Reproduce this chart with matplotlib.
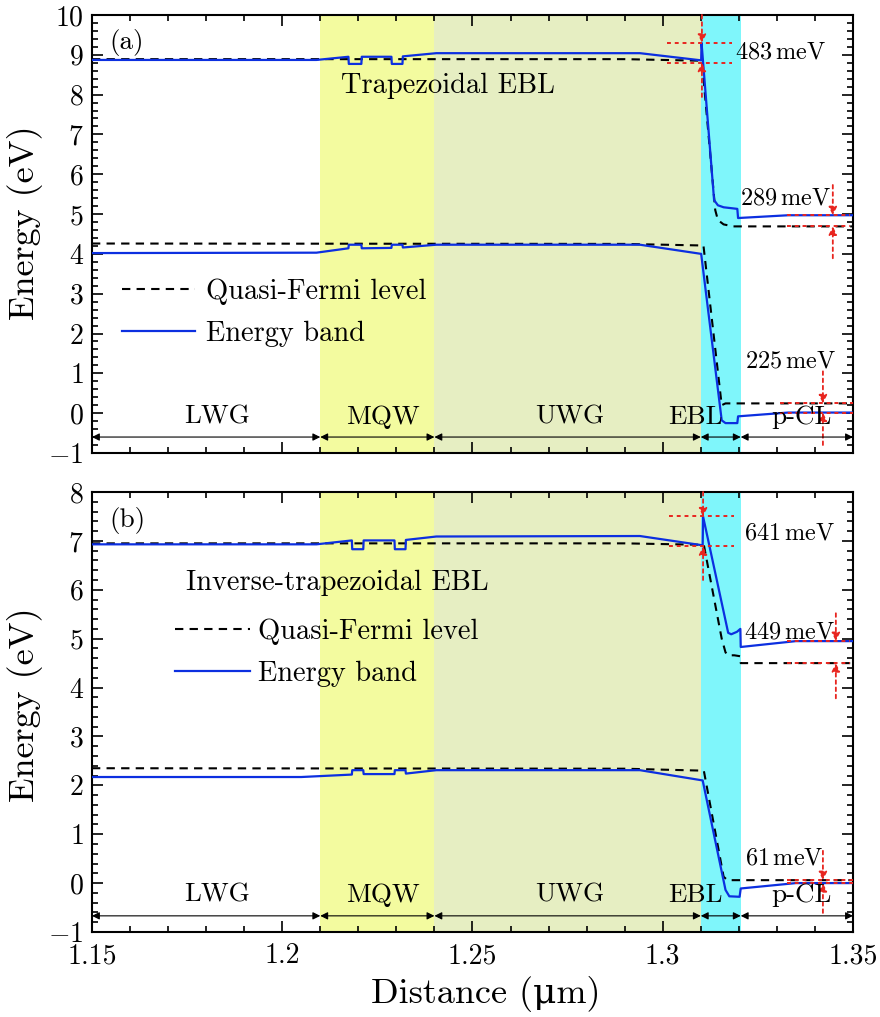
import matplotlib
matplotlib.use('Agg')
import matplotlib.pyplot as plt
from matplotlib.lines import Line2D
from matplotlib.ticker import MultipleLocator, FuncFormatter

plt.rcParams['font.family'] = ['cmr10', 'DejaVu Serif']
plt.rcParams['mathtext.fontset'] = 'cm'
plt.rcParams['axes.formatter.use_mathtext'] = True

# layers along the device (um)
regions = ['LWG', 'MQW', 'UWG', 'EBL', 'p-CL']
bounds = [1.15, 1.21, 1.24, 1.31, 1.3205, 1.35]
region_colors = [None, '#f3fb9f', '#e6eec2', '#7ff6fb', None]
label_x = [1.183, 1.2265, 1.2755, 1.3085, 1.3365]

# ---- panel (a): trapezoidal EBL ----
a_cb_x = [1.15, 1.209, 1.2174, 1.2175, 1.2208, 1.2209, 1.2287, 1.2288, 1.2316, 1.2317, 1.2405,
          1.294, 1.3101, 1.3102, 1.3135, 1.3145, 1.316, 1.3196, 1.3198, 1.333, 1.35]
a_cb_y = [8.87, 8.87, 8.95, 8.77, 8.77, 8.95, 8.95, 8.77, 8.77, 8.96, 9.04,
          9.04, 8.86, 9.30, 5.35, 5.22, 5.17, 5.13, 4.90, 4.97, 4.97]
a_cfl_x = [1.15, 1.29, 1.3103, 1.3138, 1.3145, 1.316, 1.3185, 1.35]
a_cfl_y = [8.89, 8.89, 8.85, 5.10, 4.85, 4.74, 4.69, 4.69]
a_vb_x = [1.15, 1.209, 1.2174, 1.2175, 1.2208, 1.2209, 1.2287, 1.2288, 1.2316, 1.2317, 1.2405,
          1.294, 1.3101, 1.3155, 1.3165, 1.3196, 1.3198, 1.333, 1.35]
a_vb_y = [4.02, 4.03, 4.14, 4.23, 4.23, 4.14, 4.15, 4.23, 4.23, 4.16, 4.23,
          4.23, 4.00, -0.18, -0.25, -0.25, -0.08, 0.015, 0.015]
a_vfl_x = [1.15, 1.29, 1.3107, 1.3155, 1.3165, 1.35]
a_vfl_y = [4.26, 4.25, 4.21, 0.20, 0.245, 0.245]

a_gap_text = ['483', '289', '225']
a_gap_hi = [9.30, 4.97, 0.245]
a_gap_lo = [8.80, 4.69, 0.015]
a_gap_x = [1.3103, 1.3447, 1.3421]
a_arrow_from = [(10.0, 7.94), (5.73, 3.89), (1.05, -0.80)]
a_line_span = [(1.3011, 1.3182), (1.3327, 1.3492), (1.3308, 1.3505)]
a_text_pos = [(1.319, 9.05), (1.3203, 5.40), (1.3216, 1.29)]

# ---- panel (b): inverse-trapezoidal EBL ----
b_cb_x = [1.15, 1.209, 1.2183, 1.2184, 1.2213, 1.2214, 1.2295, 1.2296, 1.2324, 1.2325, 1.2405,
          1.294, 1.3105, 1.3106, 1.3172, 1.318, 1.3195, 1.3204, 1.3205, 1.335, 1.35]
b_cb_y = [6.93, 6.93, 7.01, 6.83, 6.83, 7.01, 7.01, 6.83, 6.83, 7.02, 7.09,
          7.10, 6.91, 7.50, 5.12, 5.09, 5.14, 5.20, 4.83, 4.95, 4.95]
b_cfl_x = [1.15, 1.29, 1.3108, 1.3155, 1.3165, 1.3172, 1.3188, 1.3204, 1.3205, 1.35]
b_cfl_y = [6.95, 6.95, 6.92, 5.00, 4.72, 4.66, 4.66, 4.64, 4.50, 4.50]
b_vb_x = [1.15, 1.205, 1.2183, 1.2184, 1.2213, 1.2214, 1.2295, 1.2296, 1.2324, 1.2325, 1.2405,
          1.294, 1.3105, 1.3165, 1.3175, 1.3202, 1.3205, 1.335, 1.35]
b_vb_y = [2.17, 2.17, 2.22, 2.31, 2.31, 2.23, 2.23, 2.31, 2.31, 2.24, 2.31,
          2.31, 2.10, -0.14, -0.27, -0.28, -0.11, 0.0, 0.0]
b_vfl_x = [1.15, 1.29, 1.3108, 1.316, 1.317, 1.35]
b_vfl_y = [2.35, 2.34, 2.30, 0.13, 0.06, 0.06]

b_gap_text = ['641', '449', '61']
b_gap_hi = [7.50, 4.95, 0.06]
b_gap_lo = [6.89, 4.50, 0.0]
b_gap_x = [1.3106, 1.3455, 1.3421]
b_arrow_from = [(8.0, 6.20), (5.52, 3.78), (0.66, -0.61)]
b_line_span = [(1.3016, 1.3187), (1.3327, 1.3492), (1.3327, 1.3505)]
b_text_pos = [(1.3213, 7.16), (1.3213, 5.13), (1.3216, 0.51)]

BLUE = '#0c2fe0'
RED = '#e8251f'


def draw_panel(ax, cb, cfl, vb, vfl, gaps, ylim, arrow_y, label_y):
    for i in range(len(regions)):
        if region_colors[i]:
            ax.axvspan(bounds[i], bounds[i + 1], color=region_colors[i], lw=0, zorder=0)

    for x, y in (cfl, vfl):
        ax.plot(x, y, color='black', lw=1.5, ls=(0, (4, 3)), zorder=3)
    for x, y in (cb, vb):
        ax.plot(x, y, color=BLUE, lw=1.6, zorder=4)

    # band offset markers
    text, hi, lo, gx, afrom, span, tpos = gaps
    for i in range(len(text)):
        for lvl in (hi[i], lo[i]):
            ax.hlines(lvl, span[i][0], span[i][1], colors=RED, linestyles=(0, (2, 2)),
                      lw=1.4, zorder=5)
        ax.annotate('', xy=(gx[i], hi[i]), xytext=(gx[i], afrom[i][0]),
                    arrowprops=dict(arrowstyle='-|>', color=RED, lw=1.3, ls=(0, (2, 2)),
                                    shrinkA=0, shrinkB=0, mutation_scale=12), zorder=5)
        ax.annotate('', xy=(gx[i], lo[i]), xytext=(gx[i], afrom[i][1]),
                    arrowprops=dict(arrowstyle='-|>', color=RED, lw=1.3, ls=(0, (2, 2)),
                                    shrinkA=0, shrinkB=0, mutation_scale=12), zorder=5)
        ax.text(tpos[i][0], tpos[i][1], text[i] + r'$\,$meV', fontsize=17.5,
                ha='left', va='center', zorder=6)

    # layer labels with double arrows
    for i, name in enumerate(regions):
        ax.annotate('', xy=(bounds[i + 1], arrow_y), xytext=(bounds[i], arrow_y),
                    arrowprops=dict(arrowstyle='<|-|>', color='black', lw=0.8,
                                    shrinkA=0, shrinkB=0, mutation_scale=11), zorder=5)
        ax.text(label_x[i], label_y, name, fontsize=19.5, ha='center', va='baseline', zorder=6)

    ax.set_xlim(1.15, 1.35)
    ax.set_ylim(*ylim)
    ax.xaxis.set_major_locator(MultipleLocator(0.05))
    ax.xaxis.set_minor_locator(MultipleLocator(0.01))
    ax.yaxis.set_major_locator(MultipleLocator(1))
    ax.yaxis.set_minor_locator(MultipleLocator(0.2))
    ax.xaxis.set_major_formatter(FuncFormatter(lambda v, p: f'{v:g}'))
    ax.tick_params(which='both', direction='in', top=True, right=True, width=1.2)
    ax.tick_params(which='major', length=8, labelsize=20, pad=6)
    ax.tick_params(axis='x', which='major', pad=8)
    ax.tick_params(which='minor', length=4)
    for s in ax.spines.values():
        s.set_linewidth(1.5)
    ax.set_ylabel('Energy (eV)', fontsize=26, labelpad=4)


fig = plt.figure(figsize=(8.8, 10.17), dpi=100)
ax1 = fig.add_axes([0.1045, 0.5546, 0.8648, 0.4307])
ax2 = fig.add_axes([0.1045, 0.0836, 0.8648, 0.4326])

draw_panel(ax1, (a_cb_x, a_cb_y), (a_cfl_x, a_cfl_y), (a_vb_x, a_vb_y), (a_vfl_x, a_vfl_y),
           (a_gap_text, a_gap_hi, a_gap_lo, a_gap_x, a_arrow_from, a_line_span, a_text_pos),
           (-1, 10), -0.6, -0.26)
draw_panel(ax2, (b_cb_x, b_cb_y), (b_cfl_x, b_cfl_y), (b_vb_x, b_vb_y), (b_vfl_x, b_vfl_y),
           (b_gap_text, b_gap_hi, b_gap_lo, b_gap_x, b_arrow_from, b_line_span, b_text_pos),
           (-1, 8), -0.67, -0.38)

ax1.tick_params(labelbottom=False)
ax2.set_xlabel('Distance (\u03bcm)', fontsize=26, labelpad=5)
ax2.xaxis.label.set_x(0.518)
ax1.yaxis.label.set_y(0.525)
ax2.yaxis.label.set_y(0.516)

ax1.text(1.1547, 9.32, '(a)', fontsize=19.5, ha='left', va='center')
ax2.text(1.1547, 7.41, '(b)', fontsize=19.5, ha='left', va='center')
ax1.text(1.2436, 8.22, 'Trapezoidal EBL', fontsize=20.5, ha='center', va='center')
ax2.text(1.2145, 6.14, 'Inverse-trapezoidal EBL', fontsize=20.5, ha='center', va='center')

handles = [Line2D([], [], color='black', lw=1.5, ls=(0, (4, 3))),
           Line2D([], [], color=BLUE, lw=1.6)]
names = ['Quasi-Fermi level', 'Energy band']
ax1.legend(handles, names, loc='center left', bbox_to_anchor=(0.039, 0.321), frameon=False,
           fontsize=20.5, handlelength=2.56, handletextpad=0.4, labelspacing=0.55,
           borderpad=0, borderaxespad=0)
ax2.legend(handles, names, loc='center left', bbox_to_anchor=(0.109, 0.635), frameon=False,
           fontsize=20.5, handlelength=2.63, handletextpad=0.3, labelspacing=0.55,
           borderpad=0, borderaxespad=0)

fig.savefig('out.png', dpi=100)
